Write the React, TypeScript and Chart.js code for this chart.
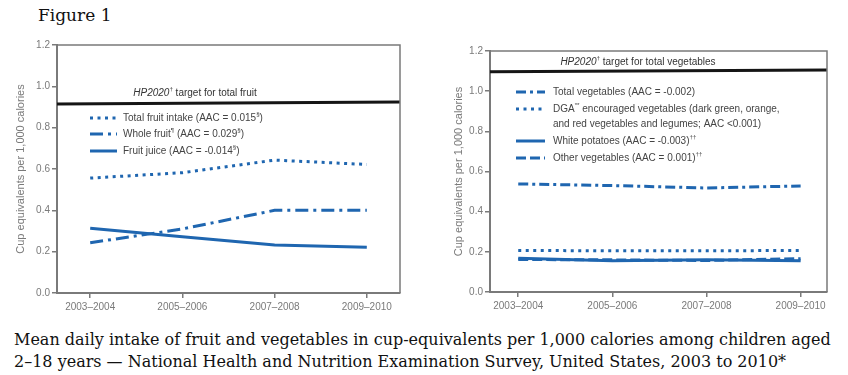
import React, { useEffect, useRef } from "react";
import { Chart, registerables } from "chart.js";
Chart.register(...registerables);

// ---------- data ----------
const periods = ["2003–2004", "2005–2006", "2007–2008", "2009–2010"];
const yTicks = [0, 0.2, 0.4, 0.6, 0.8, 1.0, 1.2];

const totalFruit = [0.556, 0.582, 0.643, 0.622];
const wholeFruit = [0.243, 0.31, 0.4, 0.4];
const fruitJuice = [0.313, 0.272, 0.232, 0.221];
const fruitTarget = [0.914, 0.924];

const totalVeg = [0.538, 0.53, 0.518, 0.528];
const dgaVeg = [0.207, 0.205, 0.205, 0.207];
const whitePotatoes = [0.168, 0.155, 0.16, 0.155];
const otherVeg = [0.162, 0.16, 0.157, 0.166];
const vegTarget = [1.097, 1.106];

const fruitLabels = [
  "Total fruit intake (AAC = 0.015{§})",
  "Whole fruit{¶} (AAC = 0.029{§})",
  "Fruit juice (AAC = -0.014{§})",
];
const vegLabels = [
  "Total vegetables (AAC = -0.002)",
  "DGA{**} encouraged vegetables (dark green, orange,\nand red vegetables and legumes; AAC <0.001)",
  "White potatoes (AAC = -0.003){††}",
  "Other vegetables (AAC = 0.001){††}",
];

// ---------- styles ----------
const FONT = "'Liberation Sans', Arial, sans-serif";
const SERIF = "'DejaVu Serif', 'Liberation Serif', serif";
const BLUE = "#1f66b0";
const GRAY = "#7a7a7a";
const DOT = [3, 4.5];
const DASHDOT = [13, 5, 3, 5];
const DASHDOT2 = [10, 4, 3, 4];
const DASH = [10, 4];
const SOLID: number[] = [];

function drawRich(ctx: CanvasRenderingContext2D, text: string, x: number, y: number, size: number, color: string, align: "left" | "center") {
  const tokens = text.split(/(\{[^}]*\}|_[^_]*_)/).filter((t) => t.length > 0);
  const segs = tokens.map((t) => {
    if (t.startsWith("{")) return { t: t.slice(1, -1), font: `${size * 0.62}px ${FONT}`, dy: -size * 0.35, w: 0 };
    if (t.startsWith("_")) return { t: t.slice(1, -1), font: `italic ${size}px ${FONT}`, dy: 0, w: 0 };
    return { t, font: `${size}px ${FONT}`, dy: 0, w: 0 };
  });
  let total = 0;
  for (const s of segs) {
    ctx.font = s.font;
    s.w = ctx.measureText(s.t).width;
    total += s.w;
  }
  let cx = align === "center" ? x - total / 2 : x;
  ctx.fillStyle = color;
  ctx.textBaseline = "middle";
  ctx.textAlign = "left";
  for (const s of segs) {
    ctx.font = s.font;
    ctx.fillText(s.t, cx, y + s.dy);
    cx += s.w;
  }
}

const decorPlugin = {
  id: "decor",
  afterDatasetsDraw(chart: any, _args: any, opts: any) {
    const ctx = chart.ctx as CanvasRenderingContext2D;
    const a = chart.chartArea;
    ctx.save();
    // frame top + right
    ctx.strokeStyle = GRAY;
    ctx.lineWidth = 1.5;
    ctx.beginPath();
    ctx.moveTo(a.left, a.top);
    ctx.lineTo(a.right, a.top);
    ctx.lineTo(a.right, a.bottom);
    ctx.stroke();
    // target label
    drawRich(ctx, opts.targetLabel, opts.labelX, opts.labelY, 10, "#333", "center");
    // legend
    const ds = chart.data.datasets.filter((d: any) => !d.isTarget);
    ds.forEach((d: any, i: number) => {
      const y = opts.rows[i];
      ctx.strokeStyle = d.borderColor;
      ctx.lineWidth = 3;
      ctx.lineCap = "butt";
      ctx.setLineDash(d.borderDash || []);
      ctx.beginPath();
      ctx.moveTo(opts.markX0, y);
      ctx.lineTo(opts.markX1, y);
      ctx.stroke();
      ctx.setLineDash([]);
      const lines = String(d.label).split("\n");
      lines.forEach((ln: string, k: number) => drawRich(ctx, ln, opts.textX, y + k * 15, 10, "#444", "left"));
    });
    ctx.restore();
  },
};

type PanelProps = {
  left: number; top: number; width: number; height: number;
  series: { label: string; data: number[]; dash: number[] }[];
  target: number[];
  xMin: number; xMax: number;
  padTop: number; padRight: number; yw: number; xh: number; titlePad: number;
  decor: any;
};

function Panel(p: PanelProps) {
  const ref = useRef<HTMLCanvasElement>(null);
  useEffect(() => {
    const tickFont = { size: 10, family: FONT };
    const chart = new Chart(ref.current as HTMLCanvasElement, {
      type: "line",
      data: {
        datasets: [
          ...p.series.map((s) => ({
            label: s.label,
            data: s.data.map((y, i) => ({ x: i, y })),
            borderColor: BLUE,
            borderWidth: 3,
            borderDash: s.dash,
            borderCapStyle: "butt",
            pointRadius: 0,
            tension: 0,
            fill: false,
          })),
          {
            label: "target",
            isTarget: true,
            data: [{ x: p.xMin, y: p.target[0] }, { x: p.xMax, y: p.target[1] }],
            borderColor: "#151515",
            borderWidth: 3,
            pointRadius: 0,
            fill: false,
          } as any,
        ],
      },
      options: {
        animation: false,
        responsive: false,
        layout: { padding: { left: 0, top: p.padTop, right: p.padRight, bottom: 0 } },
        plugins: { legend: { display: false }, tooltip: { enabled: false }, decor: p.decor } as any,
        scales: {
          x: {
            type: "linear",
            min: p.xMin,
            max: p.xMax,
            afterBuildTicks: (s: any) => { s.ticks = periods.map((_, i) => ({ value: i })); },
            afterFit: (s: any) => { s.height = p.xh; },
            ticks: { callback: (v: any) => periods[Math.round(v)], color: GRAY, font: tickFont, maxRotation: 0, autoSkip: false, padding: 3 },
            grid: { drawOnChartArea: false, tickLength: 5, color: GRAY, lineWidth: 1.5 },
            border: { color: GRAY, width: 2 },
          },
          y: {
            min: 0,
            max: 1.2,
            afterBuildTicks: (s: any) => { s.ticks = yTicks.map((v) => ({ value: v })); },
            afterFit: (s: any) => { s.width = p.yw; },
            ticks: { callback: (v: any) => Number(v).toFixed(1), color: GRAY, font: tickFont, padding: 2 },
            grid: { drawOnChartArea: false, tickLength: 5, color: GRAY, lineWidth: 1.5 },
            border: { color: GRAY, width: 2 },
            title: { display: true, text: "Cup equivalents per 1,000 calories", color: GRAY, font: { size: 11, family: FONT }, padding: { top: p.titlePad, bottom: 0 } },
          },
        },
      } as any,
      plugins: [decorPlugin],
    });
    return () => chart.destroy();
  }, []);
  return (
    <canvas
      ref={ref}
      width={p.width}
      height={p.height}
      style={{ position: "absolute", left: p.left, top: p.top, width: p.width, height: p.height }}
    />
  );
}

export default function App() {
  return (
    <div style={{ position: "absolute", left: 0, top: 0, width: 848, height: 375, background: "#fff", overflow: "hidden" }}>
      <div style={{ position: "absolute", left: 38, top: 5, fontFamily: SERIF, fontSize: 17, color: "#111" }}>Figure 1</div>
      <Panel
        left={0} top={30} width={420} height={290}
        series={[
          { label: fruitLabels[0], data: totalFruit, dash: DOT },
          { label: fruitLabels[1], data: wholeFruit, dash: DASHDOT },
          { label: fruitLabels[2], data: fruitJuice, dash: SOLID },
        ]}
        target={fruitTarget}
        xMin={-0.36} xMax={3.36}
        padTop={15} padRight={20} yw={57} xh={27} titlePad={14}
        decor={{ targetLabel: "_HP2020_{†} target for total fruit", labelX: 195, labelY: 63, rows: [88, 104, 121], markX0: 90, markX1: 117, textX: 123 }}
      />
      <Panel
        left={430} top={30} width={418} height={290}
        series={[
          { label: vegLabels[0], data: totalVeg, dash: DASHDOT2 },
          { label: vegLabels[1], data: dgaVeg, dash: DOT },
          { label: vegLabels[2], data: whitePotatoes, dash: SOLID },
          { label: vegLabels[3], data: otherVeg, dash: DASH },
        ]}
        target={vegTarget}
        xMin={-0.3} xMax={3.28}
        padTop={21} padRight={21} yw={60} xh={28} titlePad={22}
        decor={{ targetLabel: "_HP2020_{†} target for total vegetables", labelX: 208, labelY: 32, rows: [62, 79, 111, 128], markX0: 86, markX1: 115, textX: 123 }}
      />
      <div style={{ position: "absolute", left: 14, top: 329, fontFamily: SERIF, fontSize: 16, lineHeight: "22px", color: "#111", whiteSpace: "nowrap" }}>
        Mean daily intake of fruit and vegetables in cup-equivalents per 1,000 calories among children aged
        <br />
        2–18 years — National Health and Nutrition Examination Survey, United States, 2003 to 2010*
      </div>
    </div>
  );
}
